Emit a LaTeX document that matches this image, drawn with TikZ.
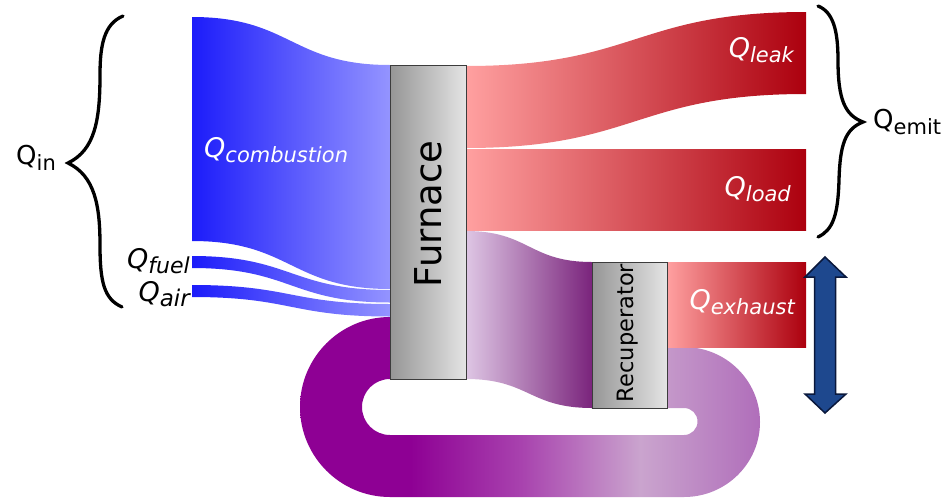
\documentclass[tikz,border=0pt]{standalone}
\usepackage{fontspec}
\setmainfont{DejaVu Sans}
\definecolor{bluL}{RGB}{28,28,250}
\definecolor{bluR}{RGB}{148,148,255}
\definecolor{redL}{RGB}{255,160,160}
\definecolor{redR}{RGB}{172,0,14}
\definecolor{purL}{RGB}{222,198,228}
\definecolor{purR}{RGB}{122,36,124}
\definecolor{lpA}{RGB}{142,0,148}
\definecolor{lpB}{RGB}{168,66,174}
\definecolor{lpC}{RGB}{202,164,206}
\definecolor{lpD}{RGB}{176,110,186}
\definecolor{grayL}{RGB}{150,150,150}
\definecolor{grayR}{RGB}{228,228,228}
\definecolor{arrfill}{RGB}{30,72,142}
\definecolor{arrline}{RGB}{10,24,60}
\pgfdeclarehorizontalshading{loopshade}{100bp}{color(0bp)=(lpA); color(25bp)=(lpA); color(37bp)=(lpA); color(49bp)=(lpB); color(62bp)=(lpC); color(75bp)=(lpD); color(100bp)=(lpD)}
\newcommand\qit[2][21]{{\fontsize{27}{30}\selectfont\itshape Q\raisebox{-5pt}{\fontsize{#1}{24}\selectfont #2}}}
\newcommand\qup[1]{{\fontsize{26}{30}\selectfont Q\raisebox{-6pt}{\fontsize{21}{24}\selectfont #1}}}
\tikzset{
  blueband/.style={left color=bluL, right color=bluR, draw=none},
  redband/.style={left color=redL, right color=redR, draw=none},
  purband/.style={left color=purL, right color=purR, draw=none},
  boxshade/.style={draw={rgb,255:red,60;green,60;blue,60}, line width=0.8pt, left color=grayL, right color=grayR, inner sep=0pt},
  whitelab/.style={text=white, inner sep=0pt},
  blacklab/.style={text=black, inner sep=0pt},
  bracestyle/.style={draw=black, line width=3.3pt, line cap=round}
}
\begin{document}
\begin{tikzpicture}[x=1pt,y=-1pt]
\useasboundingbox (0,0) rectangle (947,501);
% recirculation loop
\path[shading=loopshade]
 (390,317) .. controls (340.3,317) and (300,357.3) .. (300,407)
 .. controls (300,456.7) and (340.3,497) .. (390,497)
 -- (684,497) .. controls (726,497) and (760,463.4) .. (760,422)
 .. controls (760,380.6) and (726,347) .. (684,347) -- (667,347)
 -- (667,408) -- (684,408) .. controls (691.5,408) and (697.5,414) .. (697.5,421.5)
 .. controls (697.5,429) and (691.5,435) .. (684,435) -- (390,435)
 .. controls (374.5,435) and (362,422.5) .. (362,407)
 .. controls (362,391.5) and (374.5,379) .. (390,379) -- cycle;
% inflows
\path[blueband] (192,17) .. controls (291,17) and (291,65) .. (390,65) -- (390,289) .. controls (291,289) and (291,241) .. (192,241) -- cycle;
\path[blueband] (192,256) .. controls (291,256) and (291,290) .. (390,290) -- (390,302.5) .. controls (291,302.5) and (291,268) .. (192,268) -- cycle;
\path[blueband] (192,285) .. controls (291,285) and (291,304) .. (390,304) -- (390,316.5) .. controls (291,316.5) and (291,297) .. (192,297) -- cycle;
% outflows
\path[redband] (466,66) .. controls (636,66) and (636,12) .. (806,12) -- (806,94) .. controls (636,94) and (636,148) .. (466,148) -- cycle;
\path[redband] (466,149) rectangle (806,230);
\path[purband] (466,231) .. controls (529,231) and (529,262) .. (592,262) -- (592,408) .. controls (529,408) and (529,379) .. (466,379) -- cycle;
\path[redband] (667,262) rectangle (806,347);
% boxes
\node[boxshade, minimum width=76, minimum height=314] (furnace) at (428,222) {};
\node[rotate=90, inner sep=0pt, font=\fontsize{37}{40}\selectfont] (furnacetxt) at (428,214) {Furnace};
\node[boxshade, minimum width=75, minimum height=146] (recup) at (629.5,335) {};
\node[rotate=90, inner sep=0pt, font=\fontsize{22.5}{25}\selectfont] (recuptxt) at (628,333) {Recuperator};
% labels
\node[whitelab, anchor=base west] (qcomb) at (204,157) {\qit{combustion}};
\node[blacklab, anchor=base east] (qfuel) at (190,268) {\qit[22]{fuel}};
\node[blacklab, anchor=base east] (qair) at (190,301) {\qit[23]{air}};
\node[whitelab, anchor=base east] (qleak) at (794,57) {\qit{leak}};
\node[whitelab, anchor=base east] (qload) at (791,196) {\qit{load}};
\node[whitelab, anchor=base east] (qexh) at (795,309) {\qit{exhaust}};
\node[blacklab, anchor=base west] (qin) at (16,164) {\qup{in}};
\node[blacklab, anchor=base west] (qemit) at (873,128) {\qup{emit}};
% braces
\path[bracestyle] (123,16) .. controls (104,24) and (100,45) .. (100,75)
 .. controls (100,120) and (95,150) .. (68,163) .. controls (95,176) and (100,206) .. (100,245)
 .. controls (100,282) and (104,299) .. (122,307);
\path[bracestyle] (818,6) .. controls (833,12) and (838,30) .. (838,60)
 .. controls (838,100) and (845,115) .. (863,122) .. controls (845,129) and (840,145) .. (839,180)
 .. controls (838,215) and (833,230) .. (818,237);
% double arrow
\path[fill=arrfill, draw=arrline, line width=1.5pt, line join=miter]
 (825,257) -- (846,277) -- (835.5,277) -- (835.5,394) -- (846,394) -- (825,413)
 -- (805,394) -- (814.5,394) -- (814.5,277) -- (805,277) -- cycle;
\end{tikzpicture}
\end{document}
